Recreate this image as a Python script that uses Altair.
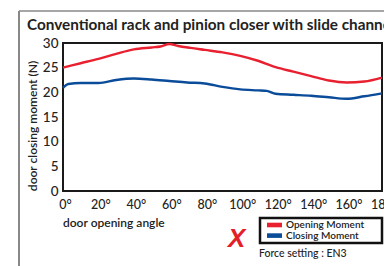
import altair as alt
import pandas as pd

series_names = ["Opening Moment", "Closing Moment"]
series_colors = ["#e8202f", "#0a4c9a"]

open_deg = [0, 10, 20, 30, 40, 50, 55, 60, 65, 72, 80, 90, 100, 110, 120, 130, 140, 150, 160, 170, 180]
open_val = [25.0, 25.9, 26.8, 27.8, 28.7, 29.1, 29.3, 29.8, 29.4, 29.0, 28.6, 28.1, 27.4, 26.4, 25.1, 24.2, 23.3, 22.4, 22.0, 22.2, 23.0]

close_deg = [0, 3, 10, 20, 30, 40, 50, 60, 70, 80, 90, 100, 110, 115, 120, 130, 140, 150, 160, 170, 180]
close_val = [20.9, 21.7, 21.9, 21.9, 22.5, 22.8, 22.6, 22.3, 22.0, 21.8, 21.1, 20.6, 20.4, 20.3, 19.7, 19.5, 19.3, 19.0, 18.7, 19.2, 19.8]

x_ticks = [0, 20, 40, 60, 80, 100, 120, 140, 160, 180]
y_ticks = [0, 5, 10, 15, 20, 25, 30]

title_text = "Conventional rack and pinion closer with slide channel"
x_title = "door opening angle"
y_title = "door closing moment (N)"
note_text = "Force setting : EN3"

df = pd.concat([
    pd.DataFrame({"angle": open_deg, "moment": open_val, "series": series_names[0]}),
    pd.DataFrame({"angle": close_deg, "moment": close_val, "series": series_names[1]}),
])

FONT = "Lato"

lines = alt.Chart(df).mark_line(strokeWidth=2.4, interpolate="monotone").encode(
    x=alt.X("angle:Q", scale=alt.Scale(domain=[0, 180], nice=False),
            axis=alt.Axis(values=x_ticks, labelExpr="datum.value + '°'", title=None,
                          domain=False, ticks=False, grid=False, labelPadding=7,
                          labelFontSize=12.5, labelFont=FONT, labelColor="#222",
                          labelOffset=2, labelFontWeight=500, labelOverlap=False,
                          labelBound=False, labelFlush=False)),
    y=alt.Y("moment:Q", scale=alt.Scale(domain=[0, 30], nice=False),
            axis=alt.Axis(values=y_ticks, title=None, domain=False, ticks=False, grid=False,
                          labelPadding=5, labelFontSize=13.5, labelFont=FONT,
                          labelColor="#222", labelFontWeight=500, labelOverlap=False)),
    color=alt.Color("series:N", scale=alt.Scale(domain=series_names, range=series_colors), legend=None),
)

one = pd.DataFrame({"k": [0]})

def txt(text, x, y, size, weight="normal", color="#222", align="left", angle=0, style="normal", font=FONT):
    kw = dict(align=align, baseline="middle", fontSize=size, fontWeight=weight,
              color=color, font=font, fontStyle=style)
    if angle:
        kw["angle"] = angle
    return alt.Chart(one).mark_text(**kw).encode(
        x=alt.value(x), y=alt.value(y), text=alt.value(text))

title = txt(title_text, -36, -18, 15.3, weight="bold", color="#222")
ytitle = txt(y_title, -30, 83, 12, weight=600, color="#222", align="center", angle=270)
xtitle = txt(x_title, 0, 180, 12, weight=600, color="#222")

frame_left = alt.Chart(one).mark_rule(color="#888", strokeWidth=2).encode(
    x=alt.value(-44), y=alt.value(-32), y2=alt.value(230))
frame_top = alt.Chart(one).mark_rule(color="#888", strokeWidth=1.5).encode(
    x=alt.value(-44), x2=alt.value(340), y=alt.value(-32))

legend_box = alt.Chart(one).mark_rect(fill="white", stroke="#111", strokeWidth=2.5).encode(
    x=alt.value(197), x2=alt.value(319), y=alt.value(175), y2=alt.value(200))

legend_layers = []
for i, (name, col) in enumerate(zip(series_names, series_colors)):
    y0 = 179.7 + i * 10.6
    legend_layers.append(alt.Chart(one).mark_rect(color=col).encode(
        x=alt.value(204), x2=alt.value(219), y=alt.value(y0), y2=alt.value(y0 + 4.6)))
    legend_layers.append(txt(name, 223, y0 + 2.6, 10, weight=600, color="#222"))

note = txt(note_text, 196, 211, 10.5, weight=500, color="#222")
cross = txt("X", 165, 196, 26, weight="bold", color="#e32027", style="italic", font="Liberation Sans")

chart = alt.layer(frame_left, frame_top, lines, title, ytitle, xtitle,
                  legend_box, *legend_layers, cross, note).properties(
    width=319, height=148,
    autosize=alt.AutoSizeParams(type="none"),
    padding={"left": 55, "top": 35, "right": 2, "bottom": 75},
).configure_view(stroke="#1a1a1a", strokeWidth=2)

chart.save("out.html", embed_options={"renderer": "svg", "actions": False})
